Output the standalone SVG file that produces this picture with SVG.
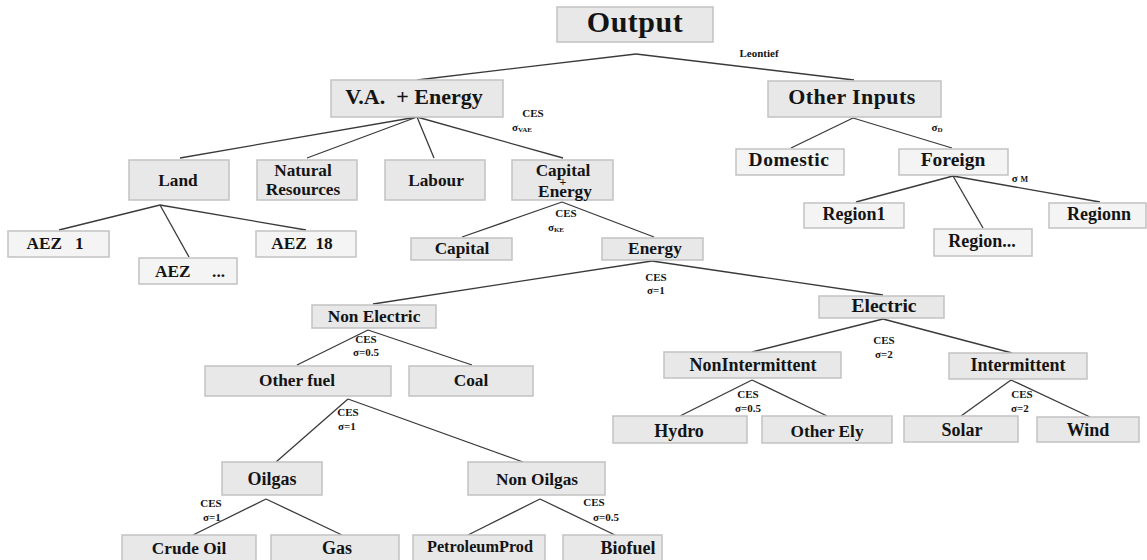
<svg xmlns="http://www.w3.org/2000/svg" width="1147" height="560" viewBox="0 0 1147 560">
<style>
.box{fill:#e8e8e8;stroke:#c2c2c2;stroke-width:1.5}
.lt{fill:#f4f4f4}
.t{font-family:"Liberation Serif","Times New Roman",serif;font-weight:bold;fill:#141414;text-anchor:middle}
.s30{font-size:30px}
.s22{font-size:22px}
.s20{font-size:19.5px}
.s18{font-size:18px}
.s17{font-size:17.3px}
.s16{font-size:16.3px}
.lbl{font-family:"Liberation Serif","Times New Roman",serif;font-weight:bold;fill:#141414;font-size:11px;text-anchor:middle}
.sub{font-size:7px}
#connectors line{stroke:#3a3a3a;stroke-width:1.3}
</style>
<rect width="1147" height="560" fill="#ffffff"/>
<g id="connectors">
<line x1="636" y1="54" x2="417" y2="80"/>
<line x1="636" y1="54" x2="854" y2="80"/>
<line x1="417" y1="117" x2="180" y2="158"/>
<line x1="417" y1="117" x2="307" y2="158"/>
<line x1="417" y1="117" x2="434" y2="158"/>
<line x1="417" y1="117" x2="563" y2="158"/>
<line x1="853" y1="118" x2="791" y2="148"/>
<line x1="853" y1="118" x2="952" y2="148"/>
<line x1="953" y1="176" x2="856" y2="202"/>
<line x1="953" y1="176" x2="983" y2="228"/>
<line x1="953" y1="176" x2="1100" y2="202"/>
<line x1="160" y1="205" x2="59" y2="230"/>
<line x1="160" y1="205" x2="189" y2="257"/>
<line x1="160" y1="205" x2="306" y2="230"/>
<line x1="562" y1="202" x2="462" y2="237"/>
<line x1="562" y1="202" x2="654" y2="237"/>
<line x1="652" y1="261" x2="373" y2="304"/>
<line x1="652" y1="261" x2="883" y2="295"/>
<line x1="368" y1="330" x2="297" y2="365"/>
<line x1="368" y1="330" x2="472" y2="365"/>
<line x1="883" y1="319" x2="752" y2="352"/>
<line x1="883" y1="319" x2="1012" y2="353"/>
<line x1="348" y1="399" x2="276" y2="462"/>
<line x1="348" y1="399" x2="523" y2="462"/>
<line x1="752" y1="380" x2="680" y2="416"/>
<line x1="752" y1="380" x2="827" y2="416"/>
<line x1="1011" y1="380" x2="961" y2="416"/>
<line x1="1011" y1="380" x2="1090" y2="417"/>
<line x1="266" y1="499" x2="193" y2="535"/>
<line x1="266" y1="499" x2="342" y2="535"/>
<line x1="540" y1="499" x2="468" y2="535"/>
<line x1="540" y1="499" x2="615" y2="535"/>
</g>
<g id="labels">
<text class="lbl" x="759" y="57">Leontief</text>
<text class="lbl" x="533" y="117">CES</text>
<text class="lbl" x="522" y="131" text-anchor="start">σ<tspan class="sub" dy="1">VAE</tspan></text>
<text class="lbl" x="566" y="217">CES</text>
<text class="lbl" x="556" y="231" text-anchor="start">σ<tspan class="sub" dy="1">KE</tspan></text>
<text class="lbl" x="937" y="131" text-anchor="start">σ<tspan class="sub" dy="1">D</tspan></text>
<text class="lbl" x="1020" y="182" text-anchor="start">σ <tspan font-size="8">M</tspan></text>
<text class="lbl" x="656" y="281">CES</text>
<text class="lbl" x="656" y="294">σ=1</text>
<text class="lbl" x="366" y="343">CES</text>
<text class="lbl" x="366" y="356">σ=0.5</text>
<text class="lbl" x="884" y="344">CES</text>
<text class="lbl" x="884" y="358">σ=2</text>
<text class="lbl" x="348" y="416">CES</text>
<text class="lbl" x="347" y="430">σ=1</text>
<text class="lbl" x="748" y="398">CES</text>
<text class="lbl" x="748" y="412">σ=0.5</text>
<text class="lbl" x="1022" y="398">CES</text>
<text class="lbl" x="1020" y="412">σ=2</text>
<text class="lbl" x="211" y="507">CES</text>
<text class="lbl" x="212" y="521">σ=1</text>
<text class="lbl" x="594" y="506">CES</text>
<text class="lbl" x="606" y="521">σ=0.5</text>
</g>
<g id="n-output"><rect class="box" x="557" y="7" width="156" height="35"/><text class="t s30" x="635" y="32" letter-spacing="0.5">Output</text></g>
<g id="n-vae"><rect class="box" x="331" y="80" width="172" height="37"/><text class="t s22" x="414" y="104" xml:space="preserve">V.A.  + Energy</text></g>
<g id="n-other-inputs"><rect class="box" x="768" y="81" width="173" height="36"/><text class="t s22" x="852" y="104" letter-spacing="0.4">Other Inputs</text></g>
<g id="n-land"><rect class="box" x="129" y="160" width="100" height="40"/><text class="t s17" x="178" y="186">Land</text></g>
<g id="n-natural"><rect class="box" x="257" y="160" width="100" height="40"/><text class="t s17" x="303" y="176">Natural</text><text class="t s17" x="303" y="195">Resources</text></g>
<g id="n-labour"><rect class="box" x="385" y="160" width="100" height="40"/><text class="t s17" x="436" y="186">Labour</text></g>
<g id="n-capital-energy"><rect class="box" x="512" y="160" width="101" height="40"/><text class="t s17" x="563" y="176">Capital</text><text class="t" x="563" y="186" font-size="12">+</text><text class="t s17" x="565" y="197">Energy</text></g>
<g id="n-aez1"><rect class="box lt" x="8" y="231" width="101" height="26"/><text class="t s17" x="55" y="249" xml:space="preserve">AEZ   1</text></g>
<g id="n-aezdots"><rect class="box lt" x="139" y="258" width="98" height="26"/><text class="t s17" x="190" y="277" xml:space="preserve">AEZ     ...</text></g>
<g id="n-aez18"><rect class="box lt" x="256" y="231" width="100" height="26"/><text class="t s17" x="302" y="249" xml:space="preserve">AEZ  18</text></g>
<g id="n-capital"><rect class="box" x="411" y="238" width="101" height="22"/><text class="t s17" x="462" y="254">Capital</text></g>
<g id="n-energy"><rect class="box" x="602" y="238" width="101" height="22"/><text class="t s17" x="655" y="254">Energy</text></g>
<g id="n-domestic"><rect class="box lt" x="736" y="149" width="108" height="26"/><text class="t s20" x="789" y="166" letter-spacing="0.5">Domestic</text></g>
<g id="n-foreign"><rect class="box lt" x="899" y="149" width="109" height="26"/><text class="t s20" x="953" y="166">Foreign</text></g>
<g id="n-region1"><rect class="box lt" x="804" y="203" width="100" height="25"/><text class="t s18" x="854" y="220">Region1</text></g>
<g id="n-regiondots"><rect class="box lt" x="934" y="229" width="98" height="27"/><text class="t s18" x="982" y="247">Region...</text></g>
<g id="n-regionn"><rect class="box lt" x="1049" y="203" width="97" height="25"/><text class="t s18" x="1099" y="220">Regionn</text></g>
<g id="n-nonelectric"><rect class="box" x="312" y="305" width="124" height="23"/><text class="t s17" x="374" y="322">Non Electric</text></g>
<g id="n-electric"><rect class="box" x="819" y="296" width="125" height="22"/><text class="t s20" x="884" y="312">Electric</text></g>
<g id="n-otherfuel"><rect class="box" x="205" y="366" width="186" height="30"/><text class="t s17" x="297" y="386">Other fuel</text></g>
<g id="n-coal"><rect class="box" x="409" y="366" width="124" height="30"/><text class="t s17" x="471" y="386">Coal</text></g>
<g id="n-nonintermittent"><rect class="box" x="664" y="352" width="177" height="26"/><text class="t s18" x="753" y="371">NonIntermittent</text></g>
<g id="n-intermittent"><rect class="box" x="949" y="353" width="138" height="26"/><text class="t s18" x="1018" y="371">Intermittent</text></g>
<g id="n-hydro"><rect class="box" x="613" y="416" width="134" height="27"/><text class="t s18" x="679" y="437">Hydro</text></g>
<g id="n-otherely"><rect class="box" x="762" y="416" width="130" height="27"/><text class="t s17" x="827" y="437">Other Ely</text></g>
<g id="n-solar"><rect class="box" x="904" y="416" width="114" height="26"/><text class="t s18" x="962" y="436">Solar</text></g>
<g id="n-wind"><rect class="box" x="1037" y="417" width="102" height="25"/><text class="t s18" x="1088" y="436">Wind</text></g>
<g id="n-oilgas"><rect class="box" x="222" y="462" width="100" height="33"/><text class="t s18" x="272" y="485">Oilgas</text></g>
<g id="n-nonoilgas"><rect class="box" x="468" y="462" width="137" height="33"/><text class="t s17" x="537" y="485">Non Oilgas</text></g>
<g id="n-crudeoil"><rect class="box" x="122" y="535" width="134" height="30"/><text class="t s17" x="189" y="554">Crude Oil</text></g>
<g id="n-gas"><rect class="box" x="271" y="535" width="128" height="30"/><text class="t s18" x="337" y="554">Gas</text></g>
<g id="n-petroleumprod"><rect class="box" x="413" y="535" width="132" height="30"/><text class="t s16" x="480" y="552">PetroleumProd</text></g>
<g id="n-biofuel"><rect class="box" x="563" y="535" width="99" height="30"/><text class="t s18" x="628" y="554">Biofuel</text></g>
</svg>
